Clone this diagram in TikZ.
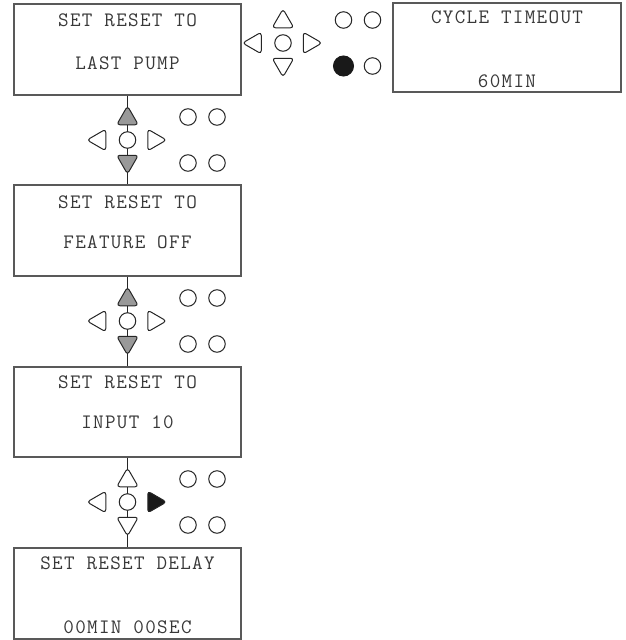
\documentclass[tikz,border=0pt]{standalone}
\usepackage{fontspec}
\setmonofont{Latin Modern Mono}[LetterSpace=6.5]
\usetikzlibrary{shapes.geometric}
\tikzset{
  box/.style={draw=black!65, line width=1.2pt, inner sep=0pt, minimum width=227pt},
  lbl/.style={font=\ttfamily\fontsize{20.5}{24}\selectfont, text=black!78, inner sep=0pt, anchor=center},
  tri/.style={regular polygon, regular polygon sides=3, minimum size=25pt, inner sep=0pt, draw=black!85, line width=1pt, rounded corners=3.2pt},
  btn/.style={circle, minimum size=16.5pt, inner sep=0pt, draw=black!85, line width=1pt, fill=white},
  bigdot/.style={circle, minimum size=20pt, inner sep=0pt, draw=black!90, line width=1pt, fill=black!90},
  conn/.style={draw=black!85, line width=1.2pt}
}
% #1 name, #2 cx, #3 cy, #4 up fill, #5 down fill, #6 right fill, #7 bottom-left button style
\newcommand{\kpad}[7]{%
  \node[btn] (#1c) at ({#2},{#3}) {};
  \node[tri, fill=#4] (#1u) at ({#2},{#3-21.5}) {};
  \node[tri, fill=#5, shape border rotate=180] (#1d) at ({#2},{#3+21.5}) {};
  \node[tri, fill=white, shape border rotate=90] (#1l) at ({#2-28},{#3}) {};
  \node[tri, fill=#6, shape border rotate=-90] (#1r) at ({#2+26.5},{#3}) {};
  \node[btn] (#1ka) at ({#2+60.5},{#3-23}) {};
  \node[btn] (#1kb) at ({#2+89.5},{#3-23}) {};
  \node[#7] (#1kc) at ({#2+60.5},{#3+23}) {};
  \node[btn] (#1kd) at ({#2+89.5},{#3+23}) {};
}
\begin{document}
\begin{tikzpicture}[x=1pt,y=-1pt]
\useasboundingbox (0,0) rectangle (626,640);
% boxes
\node[box, minimum height=91pt] (b1) at (127.5,49.5) {};
\node[box, minimum height=91pt] (b2) at (127.5,230.5) {};
\node[box, minimum height=90pt] (b3) at (127.5,412) {};
\node[box, minimum height=91pt] (b4) at (127.5,593.5) {};
\node[box, minimum width=228pt, minimum height=89pt] (b5) at (507,47.5) {};
% texts
\node[lbl] (t1a) at (127.5,20) {SET RESET TO};
\node[lbl] (t1b) at (127.5,63) {LAST PUMP};
\node[lbl] (t2a) at (127.5,202) {SET RESET TO};
\node[lbl] (t2b) at (127.5,242) {FEATURE OFF};
\node[lbl] (t3a) at (127.5,382) {SET RESET TO};
\node[lbl] (t3b) at (127.5,422) {INPUT 10};
\node[lbl] (t4a) at (127.5,563) {SET RESET DELAY};
\node[lbl] (t4b) at (127.5,627) {00MIN 00SEC};
\node[lbl] (t5a) at (507,17) {CYCLE TIMEOUT};
\node[lbl] (t5b) at (507,81) {60MIN};
% connectors
\draw[conn] (b1.south) -- (b2.north);
\draw[conn] (b2.south) -- (b3.north);
\draw[conn] (b3.south) -- (b4.north);
% keypads
\kpad{k0}{283}{43}{white}{white}{white}{bigdot}
\kpad{k1}{127.5}{140}{black!40}{black!40}{white}{btn}
\kpad{k2}{127.5}{321}{black!40}{black!40}{white}{btn}
\kpad{k3}{127.5}{502}{white}{white}{black!90}{btn}
\end{tikzpicture}
\end{document}
